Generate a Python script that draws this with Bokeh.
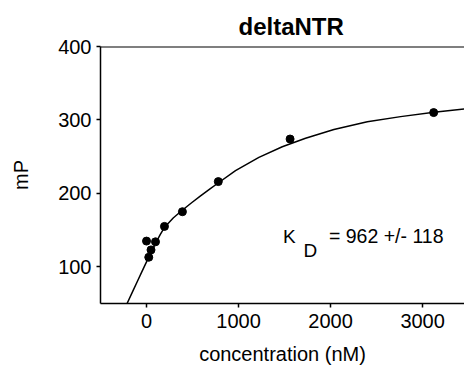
from bokeh.plotting import figure
from bokeh.models import Range1d, FixedTicker, Span, Label
from bokeh.embed import file_html
from bokeh.resources import INLINE

# measured points
conc = [0, 24.4, 48.8, 97.5, 195, 390, 780, 1560, 3120]
mp = [135, 113, 123, 134, 155, 175, 216, 274, 310]

# fitted curve
curve_x = [-215, -150, -100, -50, 0, 50, 105, 150, 199, 290, 388, 490, 587, 690,
           786, 967, 1221, 1475, 1728, 2036, 2399, 2761, 3123, 3460]
curve_y = [49, 66.5, 80, 93.4, 106.7, 119.7, 133.5, 144, 154.2, 166.5, 177, 187.2,
           196.6, 206.2, 214.8, 231, 249, 263.5, 275, 287, 297.5, 304.5,
           310.3, 315]

x_ticks = [0, 1000, 2000, 3000]
y_ticks = [100, 200, 300, 400]

FONT = "Liberation Sans"

p = figure(width=464, height=370,
           x_range=Range1d(-500, 3455), y_range=Range1d(50, 400),
           output_backend="svg", toolbar_location=None,
           min_border_left=100, min_border_right=0,
           min_border_top=46, min_border_bottom=67,
           title="deltaNTR")

p.title.text_font = FONT
p.title.text_font_size = "24px"
p.title.text_font_style = "bold"
p.title.text_color = "black"
p.title.align = "left"
p.title.offset = 138
p.title.standoff = 14

p.outline_line_color = None
p.grid.visible = False
p.background_fill_color = "white"
p.border_fill_color = "white"

for ax in (p.xaxis[0], p.yaxis[0]):
    ax.axis_line_color = "black"
    ax.axis_line_width = 1.5
    ax.major_tick_line_color = "black"
    ax.major_tick_line_width = 1.5
    ax.major_tick_in = 0
    ax.major_tick_out = 4
    ax.minor_tick_line_color = None
    ax.major_label_text_font = FONT
    ax.major_label_text_font_size = "20px"
    ax.major_label_text_color = "black"
    ax.axis_label_text_font = FONT
    ax.axis_label_text_font_size = "20px"
    ax.axis_label_text_font_style = "normal"
    ax.axis_label_text_color = "black"

p.xaxis.ticker = FixedTicker(ticks=x_ticks)
p.yaxis.ticker = FixedTicker(ticks=y_ticks)
p.xaxis.axis_label = "concentration (nM)"
p.yaxis.axis_label = "mP"
p.xaxis.major_label_standoff = 6
p.yaxis.major_label_standoff = 5
p.xaxis.axis_label_standoff = 12
p.yaxis.axis_label_standoff = 23

p.add_layout(Span(location=400, dimension="width", line_color="black",
                  line_width=2, line_alpha=1.0))

p.line(curve_x, curve_y, line_color="black", line_width=1.5)
p.scatter(conc, mp, size=8, fill_color="black", line_color="black")

p.add_layout(Label(x=1482, y=140.9, text="K", text_font=FONT, text_font_size="19px",
                   text_baseline="alphabetic", text_color="black"))
p.add_layout(Label(x=1707, y=121.8, text="D", text_font=FONT, text_font_size="19px",
                   text_baseline="alphabetic", text_color="black"))
p.add_layout(Label(x=1982, y=142.2, text="= 962 +/- 118", text_font=FONT,
                   text_font_size="19.5px", text_baseline="alphabetic", text_color="black"))

open("out.html", "w").write(file_html(p, INLINE))
